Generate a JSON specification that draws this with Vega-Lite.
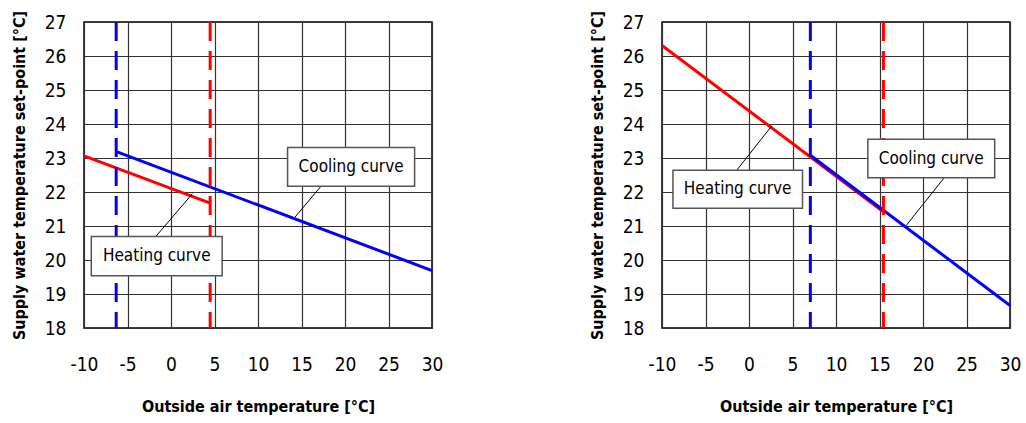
{
  "$schema": "https://vega.github.io/schema/vega-lite/v6.json",
  "padding": {"left": 10, "top": 9, "right": 5, "bottom": 5},
  "background": "white",
  "spacing": 230,
  "bounds": "flush",
  "datasets": {
    "curvesL": [
      {"t": -10, "v": 23.06, "c": "Heating"},
      {"t": 4.5, "v": 21.67, "c": "Heating"},
      {"t": -6.2, "v": 23.18, "c": "Cooling"},
      {"t": 30, "v": 19.69, "c": "Cooling"}
    ],
    "limitsL": [
      {"t": -6.3, "c": "Cooling"},
      {"t": 4.5, "c": "Heating"}
    ],
    "boxesL": [
      {"label": "Cooling curve", "x1": 13.4, "x2": 28.0, "y1": 23.31, "y2": 22.17, "xc": 20.7, "yc": 22.74},
      {"label": "Heating curve", "x1": -9.16, "x2": 5.88, "y1": 20.69, "y2": 19.54, "xc": -1.64, "yc": 20.115}
    ],
    "leadersL": [
      {"x1": 17.24, "y1": 22.17, "x2": 14.25, "y2": 21.26},
      {"x1": -1.75, "y1": 20.69, "x2": 2.46, "y2": 21.95}
    ],
    "curvesR": [
      {"t": -10, "v": 26.31, "c": "Heating"},
      {"t": 15.45, "v": 21.42, "c": "Heating"},
      {"t": 7.05, "v": 23.08, "c": "Cooling"},
      {"t": 30, "v": 18.66, "c": "Cooling"}
    ],
    "limitsR": [
      {"t": 7.05, "c": "Cooling"},
      {"t": 15.45, "c": "Heating"}
    ],
    "boxesR": [
      {"label": "Cooling curve", "x1": 13.66, "x2": 28.24, "y1": 23.55, "y2": 22.42, "xc": 20.95, "yc": 22.985},
      {"label": "Heating curve", "x1": -8.74, "x2": 6.15, "y1": 22.64, "y2": 21.52, "xc": -1.3, "yc": 22.08}
    ],
    "leadersR": [
      {"x1": 22.44, "y1": 22.42, "x2": 18.05, "y2": 21.01},
      {"x1": -1.41, "y1": 22.64, "x2": 2.6, "y2": 23.94}
    ]
  },
  "hconcat": [
    {
      "width": 348,
      "height": 306,
      "layer": [
        {
          "data": {"name": "curvesL"},
          "transform": [{"filter": "datum.c === 'Heating'"}],
          "mark": {"type": "line", "stroke": "#ff0000", "strokeWidth": 3},
          "encoding": {
            "x": {"field": "t", "type": "quantitative", "scale": {"domain": [-10, 30], "nice": false},
              "axis": {"values": [-10, -5, 0, 5, 10, 15, 20, 25, 30], "tickCount": 9, "labelExpr": "'' + datum.value", "labelOverlap": false, "title": "Outside air temperature [°C]", "labelPadding": 27, "titlePadding": 24}},
            "y": {"field": "v", "type": "quantitative", "scale": {"domain": [18, 27], "nice": false, "zero": false},
              "axis": {"values": [18, 19, 20, 21, 22, 23, 24, 25, 26, 27], "tickCount": 10, "labelExpr": "'' + datum.value", "labelOverlap": false, "title": "Supply water temperature set-point [°C]", "labelPadding": 18, "titlePadding": 17}}
          }
        },
        {
          "data": {"name": "curvesL"},
          "transform": [{"filter": "datum.c === 'Cooling'"}],
          "mark": {"type": "line", "stroke": "#0000ff", "strokeWidth": 3},
          "encoding": {
            "x": {"field": "t", "type": "quantitative"},
            "y": {"field": "v", "type": "quantitative"}
          }
        },
        {
          "data": {"name": "limitsL"},
          "mark": {"type": "rule", "strokeWidth": 3, "strokeDash": [19, 10]},
          "encoding": {
            "x": {"field": "t", "type": "quantitative"},
            "y": {"datum": 27},
            "y2": {"datum": 18},
            "color": {"field": "c", "type": "nominal", "scale": {"domain": ["Heating", "Cooling"], "range": ["#ff0000", "#0000ff"]}, "legend": null}
          }
        },
        {
          "data": {"name": "leadersL"},
          "mark": {"type": "rule", "stroke": "#000", "strokeWidth": 1},
          "encoding": {
            "x": {"field": "x1", "type": "quantitative"},
            "y": {"field": "y1", "type": "quantitative"},
            "x2": {"field": "x2"},
            "y2": {"field": "y2"}
          }
        },
        {
          "data": {"name": "boxesL"},
          "mark": {"type": "rect", "fill": "#ffffff", "stroke": "#555555", "strokeWidth": 1.5},
          "encoding": {
            "x": {"field": "x1", "type": "quantitative"},
            "x2": {"field": "x2"},
            "y": {"field": "y1", "type": "quantitative"},
            "y2": {"field": "y2"}
          }
        },
        {
          "data": {"name": "boxesL"},
          "mark": {"type": "text", "font": "DejaVu Sans Condensed, sans-serif", "fontSize": 17, "color": "#000", "align": "center", "baseline": "middle"},
          "encoding": {
            "x": {"field": "xc", "type": "quantitative"},
            "y": {"field": "yc", "type": "quantitative"},
            "text": {"field": "label"}
          }
        }
      ]
    },
    {
      "width": 348,
      "height": 306,
      "layer": [
        {
          "data": {"name": "curvesR"},
          "transform": [{"filter": "datum.c === 'Heating'"}],
          "mark": {"type": "line", "stroke": "#ff0000", "strokeWidth": 3},
          "encoding": {
            "x": {"field": "t", "type": "quantitative", "scale": {"domain": [-10, 30], "nice": false},
              "axis": {"values": [-10, -5, 0, 5, 10, 15, 20, 25, 30], "tickCount": 9, "labelExpr": "'' + datum.value", "labelOverlap": false, "title": "Outside air temperature [°C]", "labelPadding": 27, "titlePadding": 24}},
            "y": {"field": "v", "type": "quantitative", "scale": {"domain": [18, 27], "nice": false, "zero": false},
              "axis": {"values": [18, 19, 20, 21, 22, 23, 24, 25, 26, 27], "tickCount": 10, "labelExpr": "'' + datum.value", "labelOverlap": false, "title": "Supply water temperature set-point [°C]", "labelPadding": 18, "titlePadding": 17}}
          }
        },
        {
          "data": {"name": "curvesR"},
          "transform": [{"filter": "datum.c === 'Cooling'"}],
          "mark": {"type": "line", "stroke": "#0000ff", "strokeWidth": 3},
          "encoding": {
            "x": {"field": "t", "type": "quantitative"},
            "y": {"field": "v", "type": "quantitative"}
          }
        },
        {
          "data": {"name": "limitsR"},
          "mark": {"type": "rule", "strokeWidth": 3, "strokeDash": [19, 10]},
          "encoding": {
            "x": {"field": "t", "type": "quantitative"},
            "y": {"datum": 27},
            "y2": {"datum": 18},
            "color": {"field": "c", "type": "nominal", "scale": {"domain": ["Heating", "Cooling"], "range": ["#ff0000", "#0000ff"]}, "legend": null}
          }
        },
        {
          "data": {"name": "leadersR"},
          "mark": {"type": "rule", "stroke": "#000", "strokeWidth": 1},
          "encoding": {
            "x": {"field": "x1", "type": "quantitative"},
            "y": {"field": "y1", "type": "quantitative"},
            "x2": {"field": "x2"},
            "y2": {"field": "y2"}
          }
        },
        {
          "data": {"name": "boxesR"},
          "mark": {"type": "rect", "fill": "#ffffff", "stroke": "#555555", "strokeWidth": 1.5},
          "encoding": {
            "x": {"field": "x1", "type": "quantitative"},
            "x2": {"field": "x2"},
            "y": {"field": "y1", "type": "quantitative"},
            "y2": {"field": "y2"}
          }
        },
        {
          "data": {"name": "boxesR"},
          "mark": {"type": "text", "font": "DejaVu Sans Condensed, sans-serif", "fontSize": 17, "color": "#000", "align": "center", "baseline": "middle"},
          "encoding": {
            "x": {"field": "xc", "type": "quantitative"},
            "y": {"field": "yc", "type": "quantitative"},
            "text": {"field": "label"}
          }
        }
      ]
    }
  ],
  "config": {
    "view": {"stroke": "#000000", "strokeWidth": 1.5},
    "axis": {
      "labelFont": "DejaVu Sans Condensed, sans-serif",
      "labelFontSize": 19,
      "labelColor": "#000000",
      "labelOverlap": false,
      "labelFlush": false,
      "labelBound": false,
      "titleFont": "DejaVu Sans Condensed, sans-serif",
      "titleFontSize": 16,
      "titleFontWeight": "bold",
      "titleColor": "#000000",
      "gridColor": "#333333",
      "gridWidth": 1.2,
      "gridOpacity": 1,
      "domain": false,
      "ticks": false
    }
  }
}
